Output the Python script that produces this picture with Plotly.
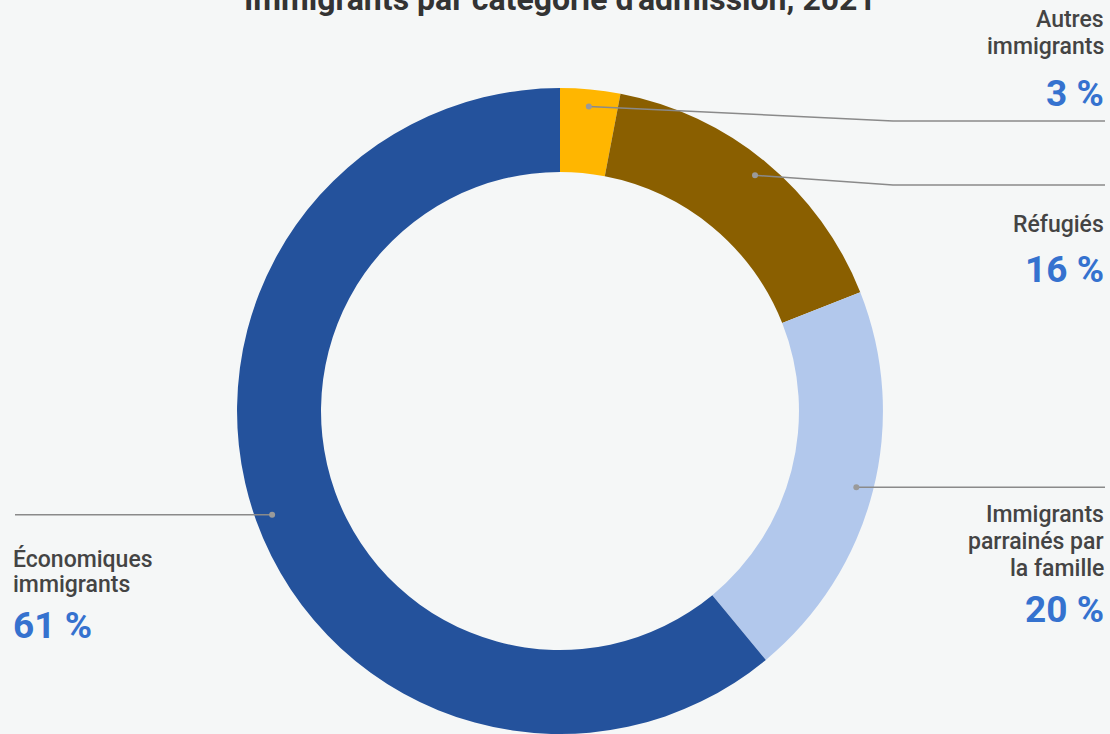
import math
import plotly.graph_objects as go

# ---- data ----
categories = ["Autres immigrants", "Réfugiés", "Immigrants parrainés par la famille", "Économiques immigrants"]
values = [3, 16, 20, 61]
label_lines = [["Autres", "immigrants"], ["Réfugiés"], ["Immigrants", "parrainés par", "la famille"], ["Économiques", "immigrants"]]
pct_labels = ["3 %", "16 %", "20 %", "61 %"]
colors = ["#FFB600", "#8A5F00", "#B2C8EC", "#24529C"]
title_text = "Immigrants par catégorie d'admission, 2021"

# ---- layout / style (pixels) ----
W, H = 1110, 734
BG = "#f5f7f7"
TEXT = "#444444"
BLUE = "#3572CF"
side = ["right", "right", "right", "left"]
line_level = [121, 185, None, None]        # None -> horizontal at dot height
first_baseline = [27, 232, 522, 567]
pct_baseline = [106, 282, 622, 638]
line_gap = [27, 27, 27, 25]
FS = 23

DOM_X = [0.2126, 0.7964]
DOM_Y = [0.0, 0.88]
cx = (DOM_X[0] + DOM_X[1]) / 2 * W
cy = (1 - (DOM_Y[0] + DOM_Y[1]) / 2) * H
R_out = min((DOM_X[1] - DOM_X[0]) * W, (DOM_Y[1] - DOM_Y[0]) * H) / 2
R_dot = R_out - 17
ELBOW_X = 893
RIGHT_X = 1105
LEFT_X = 15

def px(x):
    return x / W

def py(y):
    return 1 - y / H

fig = go.Figure(go.Pie(
    labels=categories, values=values, sort=False, direction="clockwise", rotation=0,
    hole=0.74, marker=dict(colors=colors, line=dict(width=0)),
    textinfo="none", hoverinfo="label+percent", showlegend=False,
    domain=dict(x=DOM_X, y=DOM_Y),
))

shapes = []
annotations = []
total = sum(values)
cum = 0
for i, v in enumerate(values):
    mid = (cum + v / 2) / total * 2 * math.pi
    cum += v
    dx = cx + R_dot * math.sin(mid)
    dy = cy - R_dot * math.cos(mid)
    lvl = line_level[i] if line_level[i] is not None else dy
    if side[i] == "right":
        if line_level[i] is not None:
            pts = [(dx, dy), (ELBOW_X, lvl), (RIGHT_X, lvl)]
        else:
            pts = [(dx, dy), (RIGHT_X, lvl)]
    else:
        pts = [(dx, dy), (LEFT_X, lvl)]
    path = "M " + " L ".join(f"{px(a):.5f},{py(b):.5f}" for a, b in pts)
    shapes.append(dict(type="path", path=path, xref="paper", yref="paper",
                       line=dict(color="#8a8a8a", width=1.5), layer="above"))
    r = 3
    shapes.append(dict(type="circle", xref="paper", yref="paper",
                       x0=px(dx - r), x1=px(dx + r), y0=py(dy - r), y1=py(dy + r),
                       fillcolor="#9a9a9a", line=dict(width=0), layer="above"))
    ax = RIGHT_X + 1 if side[i] == "right" else LEFT_X - 4
    anchor = "right" if side[i] == "right" else "left"
    for j, t in enumerate(label_lines[i]):
        base = first_baseline[i] + j * line_gap[i]
        annotations.append(dict(text=t, x=px(ax), y=py(base - 0.345 * FS), xref="paper", yref="paper",
                                xanchor=anchor, yanchor="middle", showarrow=False,
                                font=dict(family="Roboto", size=FS, color=TEXT, weight=500)))
    annotations.append(dict(text=f"<b>{pct_labels[i]}</b>", x=px(ax), y=py(pct_baseline[i] - 0.345 * 37),
                            xref="paper", yref="paper", xanchor=anchor, yanchor="middle", showarrow=False,
                            font=dict(family="Roboto", size=37, color=BLUE)))

annotations.append(dict(text=f"<b>{title_text}</b>", x=px(560), y=py(10 - 0.345 * 32), xref="paper", yref="paper",
                        xanchor="center", yanchor="middle", showarrow=False,
                        font=dict(family="Roboto", size=32, color="#333333")))

fig.update_layout(
    width=W, height=H, margin=dict(l=0, r=0, t=0, b=0),
    paper_bgcolor=BG, plot_bgcolor=BG,
    shapes=shapes, annotations=annotations,
)
fig.write_html("out.html", config={"displayModeBar": False},
               post_script="document.body.style.margin='0';document.body.style.background='" + BG + "';")
